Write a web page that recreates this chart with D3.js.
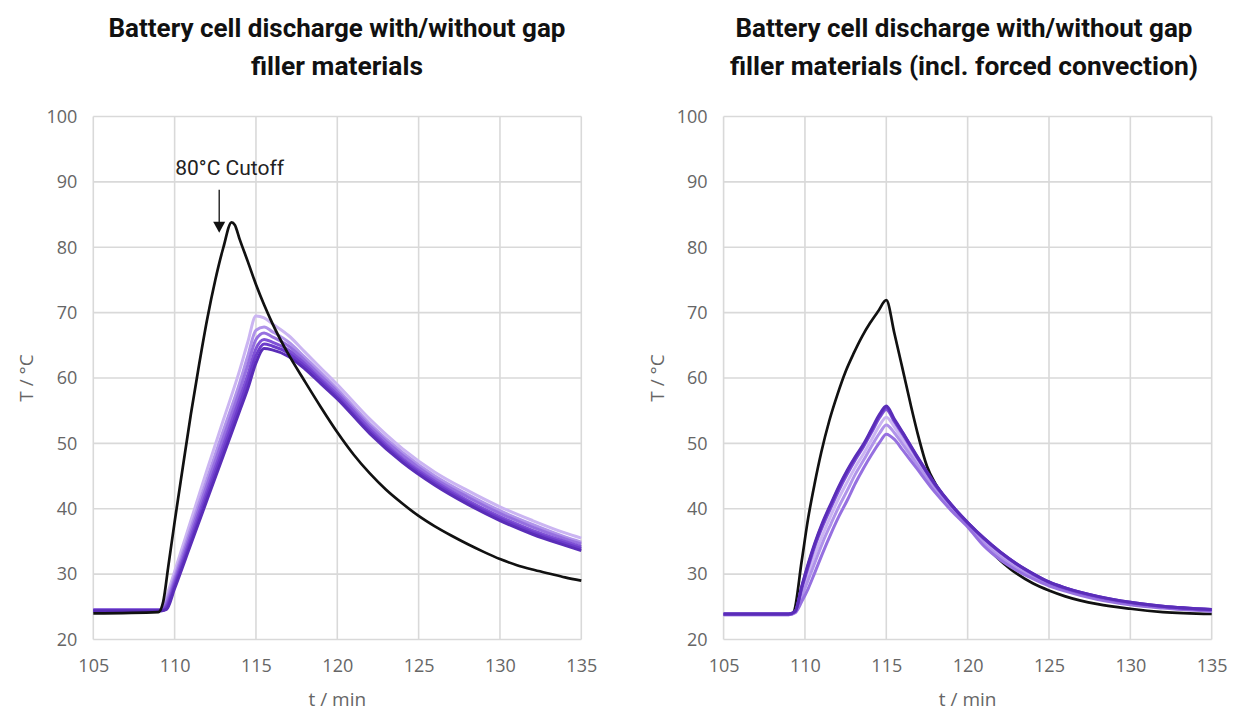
<!DOCTYPE html>
<html>
<head>
<meta charset="utf-8">
<script src="https://cdn.jsdelivr.net/npm/d3@7"></script>
<style>
  html, body { margin: 0; padding: 0; background: #ffffff; }
  svg { display: block; }
</style>
</head>
<body>
<svg id="chart" width="1238" height="711"></svg>
<script>
// ---------------- DATA ----------------
const xTicks = [105, 110, 115, 120, 125, 130, 135];
const yTicks = [20, 30, 40, 50, 60, 70, 80, 90, 100];

const titleLeft = ["Battery cell discharge with/without gap", "filler materials"];
const titleRight = ["Battery cell discharge with/without gap", "filler materials (incl. forced convection)"];
const xTitle = "t / min";
const yTitle = "T / °C";
const annotationText = "80°C Cutoff";
const annotationPoint = { t: 112.74, top: 88.8, tip: 82.2, labelT: 113.38, labelY: 91.0 };

const purpleColors = ["#cbb5f2", "#b093ea", "#9670e0", "#7f51d6", "#6c3ccb", "#5a2db8"];

// Left panel (without forced convection)
const tLeftPurple = [105, 109.2, 109.5, 110, 111, 112, 113, 114, 114.5, 115, 115.5, 116, 117, 118, 119, 120, 122, 124, 126, 128, 130, 132, 134, 135];
const leftP1 = [24.6, 24.6, 26.6, 30.4, 38.2, 46.0, 53.6, 61.2, 65.5, 69.5, 69.2, 68.3, 66.5, 64.0, 61.5, 59.0, 53.7, 49.2, 45.6, 42.8, 40.3, 38.2, 36.3, 35.5];
const leftP2 = [24.5, 24.5, 26.0, 29.6, 37.1, 44.6, 52.0, 59.3, 63.4, 67.3, 67.8, 67.1, 65.5, 63.2, 60.8, 58.3, 53.0, 48.6, 45.0, 42.2, 39.7, 37.6, 35.7, 34.9];
const leftP3 = [24.5, 24.5, 25.6, 29.1, 36.4, 43.7, 50.9, 58.1, 62.0, 65.9, 66.9, 66.3, 64.9, 62.7, 60.3, 57.9, 52.6, 48.2, 44.6, 41.8, 39.3, 37.2, 35.4, 34.6];
const leftP4 = [24.5, 24.5, 25.2, 28.6, 35.7, 42.8, 49.8, 56.9, 60.5, 64.5, 65.9, 65.5, 64.3, 62.2, 59.8, 57.5, 52.2, 47.7, 44.2, 41.3, 38.8, 36.7, 35.0, 34.2];
const leftP5 = [24.4, 24.4, 24.9, 28.2, 35.1, 42.1, 49.0, 55.9, 59.5, 63.4, 65.2, 64.9, 63.8, 61.8, 59.5, 57.1, 51.8, 47.4, 43.9, 41.0, 38.5, 36.4, 34.7, 33.9];
const leftP6 = [24.4, 24.4, 24.6, 27.8, 34.6, 41.4, 48.2, 55.0, 58.4, 62.3, 64.5, 64.3, 63.3, 61.4, 59.1, 56.8, 51.5, 47.1, 43.6, 40.7, 38.2, 36.1, 34.4, 33.6];

const tLeftBlack = [105, 109.0, 109.3, 109.6, 110, 110.5, 111, 111.5, 112, 112.5, 113, 113.5, 113.7, 114, 114.5, 115, 115.5, 116, 117, 118, 119, 120, 121, 122, 123, 124, 125, 126, 127, 128, 129, 130, 131, 132, 133, 134, 135];
const leftBlack = [24.0, 24.2, 25.8, 31.0, 38.0, 46.3, 54.5, 62.0, 69.0, 75.0, 80.0, 83.8, 83.4, 81.2, 77.8, 74.3, 71.2, 68.4, 63.6, 59.5, 55.5, 51.7, 48.3, 45.4, 42.9, 40.8, 38.9, 37.3, 35.9, 34.6, 33.4, 32.3, 31.4, 30.7, 30.1, 29.5, 29.0];

// Right panel (incl. forced convection)
const tRightPurple = [105, 109.0, 109.4, 109.8, 110.2, 110.6, 111.1, 111.6, 112.1, 112.6, 113.1, 113.6, 114.1, 114.6, 115.0, 115.5, 116.0, 116.8, 118, 119, 120, 121, 122, 123, 124, 125, 126, 128, 130, 132, 135];
const rightP1 = [23.9, 23.9, 24.2, 27.2, 30.1, 32.9, 36.1, 39.0, 41.7, 44.1, 46.4, 48.4, 50.6, 52.8, 54.0, 52.5, 50.6, 47.6, 43.3, 40.2, 37.6, 35.0, 32.9, 31.2, 29.8, 28.6, 27.7, 26.4, 25.5, 25.0, 24.5];
const rightP2 = [23.8, 23.8, 24.2, 26.6, 29.1, 31.7, 34.9, 37.7, 40.4, 42.8, 45.3, 47.4, 49.6, 51.6, 52.8, 51.6, 49.9, 47.1, 42.9, 40.0, 37.4, 34.7, 32.6, 30.9, 29.6, 28.4, 27.6, 26.3, 25.4, 24.9, 24.4];
const rightP3 = [23.8, 23.8, 24.1, 25.8, 27.8, 30.2, 33.3, 36.2, 38.9, 41.3, 43.9, 46.2, 48.3, 50.2, 51.4, 50.6, 49.0, 46.4, 42.5, 39.7, 37.2, 34.3, 32.2, 30.6, 29.3, 28.2, 27.4, 26.1, 25.3, 24.8, 24.3];
const rightP4 = [23.9, 23.9, 24.3, 27.8, 31.1, 34.2, 37.4, 40.2, 42.9, 45.3, 47.5, 49.5, 51.7, 54.0, 55.2, 53.3, 51.4, 48.2, 43.6, 40.5, 37.8, 35.4, 33.3, 31.5, 30.0, 28.7, 27.8, 26.5, 25.6, 25.0, 24.5];
const rightP5 = [23.9, 23.9, 24.3, 28.0, 31.4, 34.5, 37.8, 40.6, 43.3, 45.7, 47.8, 49.7, 52.0, 54.3, 55.5, 53.5, 51.6, 48.3, 43.7, 40.6, 37.9, 35.5, 33.4, 31.6, 30.1, 28.8, 27.9, 26.6, 25.7, 25.1, 24.6];
const rightP6 = [23.9, 23.9, 24.3, 28.1, 31.6, 34.7, 38.0, 40.8, 43.5, 45.9, 48.0, 49.9, 52.2, 54.5, 55.7, 53.7, 51.7, 48.4, 43.8, 40.6, 37.9, 35.5, 33.4, 31.6, 30.1, 28.8, 27.9, 26.6, 25.7, 25.1, 24.6];

const tRightBlack = [105, 109.0, 109.3, 109.8, 110.2, 110.6, 111.0, 111.5, 112.0, 112.5, 113.0, 113.5, 114.0, 114.5, 115.0, 115.5, 116.0, 116.5, 117.0, 117.5, 118.0, 119.0, 120.0, 121, 122, 123, 124, 125, 126, 128, 130, 132, 135];
const rightBlack = [23.8, 23.8, 24.2, 32.0, 38.6, 43.9, 48.6, 53.5, 57.5, 61.0, 63.8, 66.3, 68.4, 70.2, 71.9, 66.8, 61.4, 55.9, 50.8, 46.5, 43.9, 40.5, 37.5, 34.5, 32.1, 30.1, 28.6, 27.5, 26.6, 25.4, 24.7, 24.2, 23.9];

// ---------------- DRAWING ----------------
const svg = d3.select("#chart");
const tickFont = "'Open Sans', 'Liberation Sans', sans-serif";

function panel(cfg) {
  const x = d3.scaleLinear().domain([105, 135]).range([cfg.x0, cfg.x1]);
  const y = d3.scaleLinear().domain([20, 100]).range([639.5, 116.5]);
  const g = svg.append("g");

  // grid
  g.append("g").selectAll("line").data(xTicks).join("line")
    .attr("x1", d => x(d)).attr("x2", d => x(d))
    .attr("y1", y(100)).attr("y2", y(20))
    .attr("stroke", "#d9d9d9").attr("stroke-width", 1.6);
  g.append("g").selectAll("line").data(yTicks).join("line")
    .attr("x1", x(105)).attr("x2", x(135))
    .attr("y1", d => y(d)).attr("y2", d => y(d))
    .attr("stroke", "#d9d9d9").attr("stroke-width", 1.6);

  // axes (labels only)
  const xAxis = d3.axisBottom(x).tickValues(xTicks).tickSize(0).tickPadding(20).tickFormat(d3.format("d"));
  const yAxis = d3.axisLeft(y).tickValues(yTicks).tickSize(0).tickPadding(16).tickFormat(d3.format("d"));
  const gx = g.append("g").attr("transform", `translate(0,${y(20)})`).call(xAxis);
  const gy = g.append("g").attr("transform", `translate(${x(105)},0)`).call(yAxis);
  [gx, gy].forEach(a => {
    a.select(".domain").remove();
    a.selectAll("text").attr("font-family", tickFont).attr("font-size", 18).attr("fill", "#666666");
  });

  // axis titles
  g.append("text").attr("x", (x(105) + x(135)) / 2).attr("y", 706)
    .attr("text-anchor", "middle").attr("font-family", tickFont).attr("font-size", 19)
    .attr("fill", "#666666").text(xTitle);
  g.append("text")
    .attr("transform", `translate(${x(105) - 60},${(y(20) + y(100)) / 2}) rotate(-90)`)
    .attr("text-anchor", "middle").attr("font-family", tickFont).attr("font-size", 19)
    .attr("fill", "#666666").text(yTitle);

  // chart title
  const tt = g.append("text").attr("font-family", "Roboto, sans-serif").attr("font-weight", 700)
    .attr("font-size", 26).attr("fill", "#111111").attr("text-anchor", "middle");
  cfg.title.forEach((line, i) => {
    tt.append("tspan").attr("x", cfg.titleX).attr("y", 37 + i * 38)
      .attr("textLength", cfg.titleWidths[i]).attr("lengthAdjust", "spacingAndGlyphs").text(line);
  });

  const line = d3.line().x(d => x(d[0])).y(d => y(d[1])).curve(d3.curveMonotoneX);
  const drawBlack = () => g.append("path")
    .attr("d", line(d3.zip(cfg.tBlack, cfg.black)))
    .attr("fill", "none").attr("stroke", "#111111").attr("stroke-width", 2.7)
    .attr("stroke-linejoin", "round");
  if (!cfg.blackOnTop) drawBlack();
  cfg.purples.forEach((vals, i) => {
    g.append("path").attr("d", line(d3.zip(cfg.tPurple, vals)))
      .attr("fill", "none").attr("stroke", purpleColors[i]).attr("stroke-width", 3)
      .attr("stroke-linejoin", "round");
  });
  if (cfg.blackOnTop) drawBlack();
  return { x, y, g };
}

const L = panel({
  x0: 93.3, x1: 581.3, titleX: 337, titleWidths: [457, 172], title: titleLeft,
  tPurple: tLeftPurple, purples: [leftP1, leftP2, leftP3, leftP4, leftP5, leftP6],
  tBlack: tLeftBlack, black: leftBlack, blackOnTop: true
});
panel({
  x0: 723.6, x1: 1211.7, titleX: 964, titleWidths: [457, 468], title: titleRight,
  tPurple: tRightPurple, purples: [rightP1, rightP2, rightP3, rightP4, rightP5, rightP6],
  tBlack: tRightBlack, black: rightBlack, blackOnTop: false
});

// annotation on left panel
const ax = L.x(annotationPoint.t);
L.g.append("line").attr("x1", ax).attr("x2", ax)
  .attr("y1", L.y(annotationPoint.top)).attr("y2", L.y(annotationPoint.tip) - 10)
  .attr("stroke", "#111").attr("stroke-width", 1.3);
const tipY = L.y(annotationPoint.tip);
L.g.append("path")
  .attr("d", `M${ax - 6},${tipY - 11} L${ax + 6},${tipY - 11} L${ax},${tipY} Z`)
  .attr("fill", "#111");
L.g.append("text").attr("x", L.x(annotationPoint.labelT)).attr("y", L.y(annotationPoint.labelY))
  .attr("text-anchor", "middle").attr("font-family", "Roboto, sans-serif").attr("font-size", 21)
  .attr("fill", "#222").text(annotationText);
</script>
</body>
</html>
